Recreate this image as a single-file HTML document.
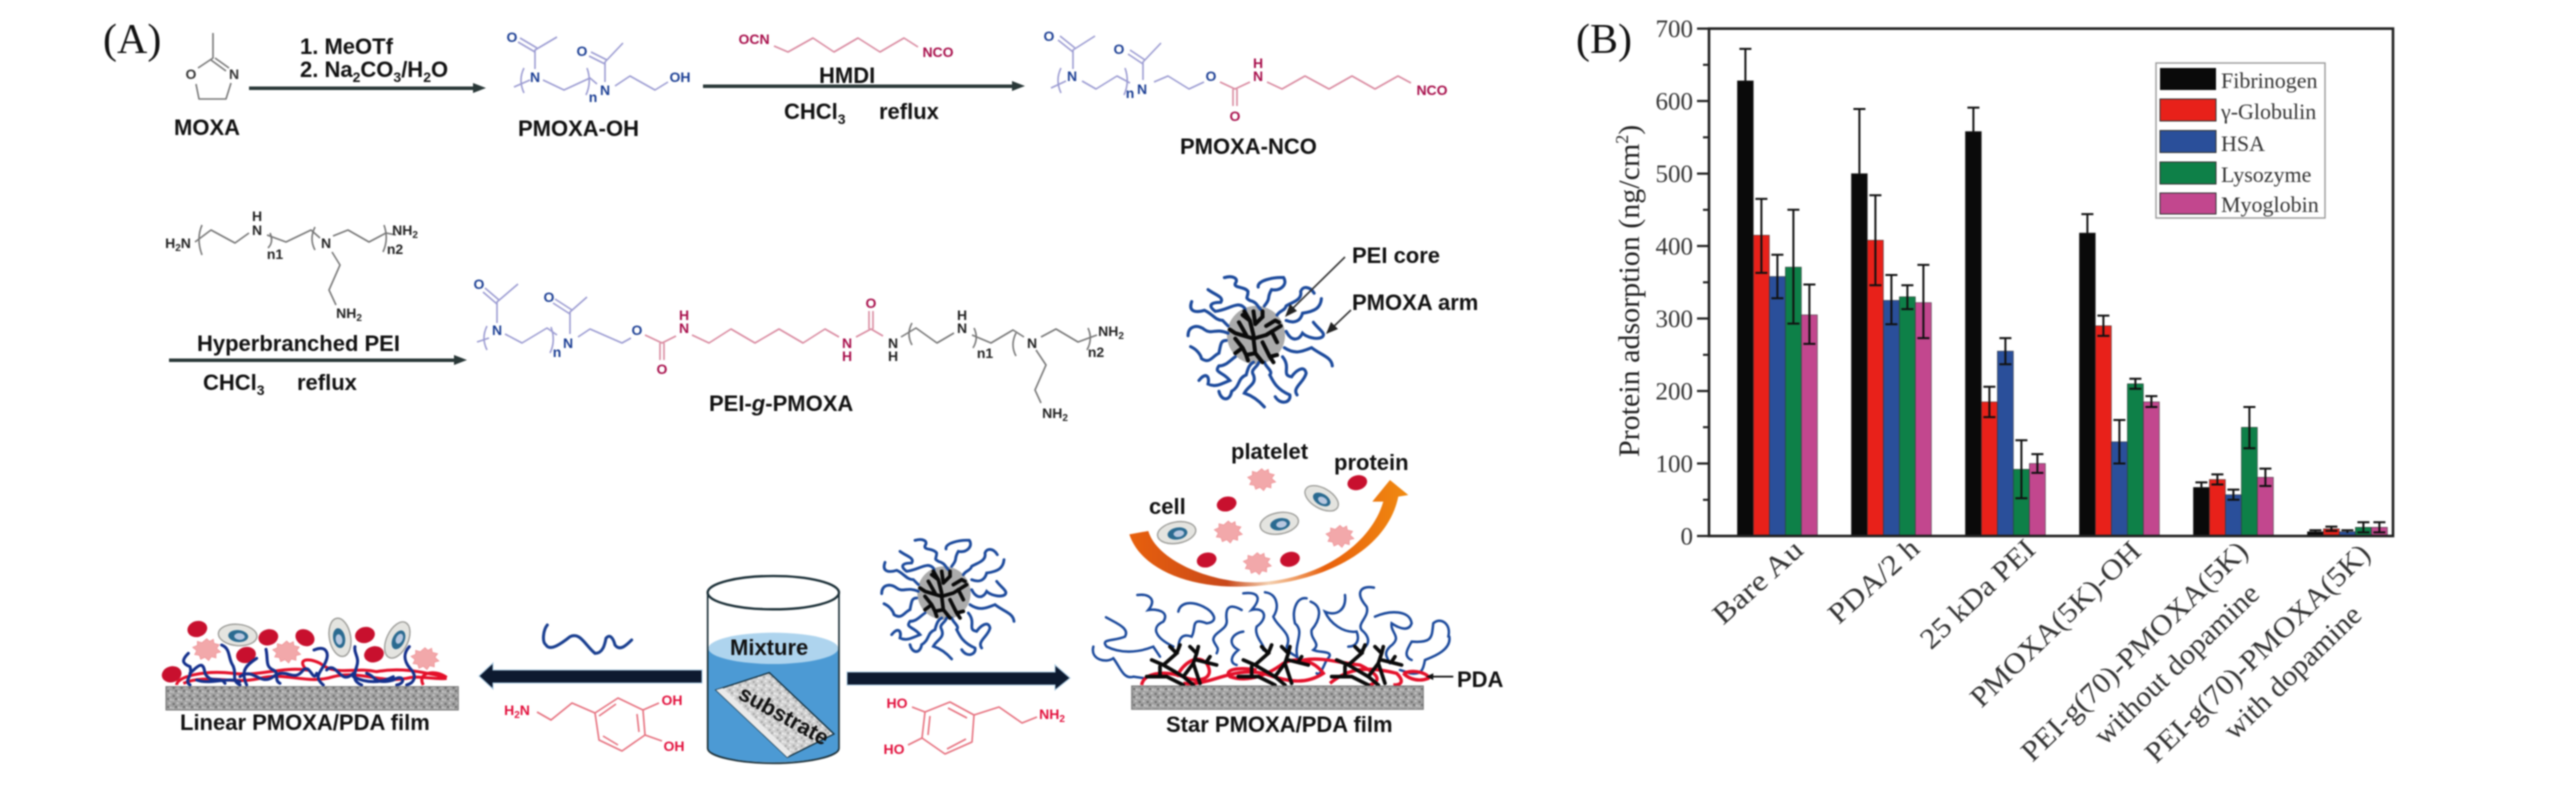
<!DOCTYPE html>
<html><head><meta charset="utf-8"><style>
html,body{margin:0;padding:0;background:#fff}
svg{display:block;filter:blur(.7px)}
text{font-family:"Liberation Sans",sans-serif}
.l{font-weight:700;font-size:22px;fill:#111}
.a{font-weight:700;font-size:14px;text-anchor:middle}
.bl{fill:#1c3f94}.cr{fill:#a8104c}.dk{fill:#222}.rd{fill:#e2103c}
.b,.p,.g,.r{fill:none;stroke-width:1.6;stroke-linejoin:round}
.b{stroke:#9c9cd2}.p{stroke:#d98aa0}.g{stroke:#777}.r{stroke:#e6707e}
.t{font-family:"Liberation Serif",serif;fill:#222}
.tick{font-family:"Liberation Serif",serif;font-size:25px;fill:#333;text-anchor:end}
.lg{font-family:"Liberation Serif",serif;font-size:22px;fill:#333}
.xl{font-family:"Liberation Serif",serif;font-size:29px;fill:#333;text-anchor:middle}
.h{font-family:"Liberation Serif",serif;font-size:42px;fill:#111}
</style></head><body>
<svg width="2567" height="787" viewBox="0 0 2567 787" xmlns="http://www.w3.org/2000/svg">
<defs>
<linearGradient id="og" x1="0" x2="1" y1="0" y2="0"><stop offset="0" stop-color="#e8600c"/><stop offset=".35" stop-color="#c8481a"/><stop offset=".5" stop-color="#f4d0b0"/><stop offset=".7" stop-color="#e8600c"/><stop offset="1" stop-color="#f08a10"/></linearGradient>
<pattern id="sp" width="24" height="24" patternUnits="userSpaceOnUse"><rect width="24" height="24" fill="#a0a0a0"/><rect x="2" y="3" width="6" height="6" fill="#6e6e6e"/><rect x="14" y="1" width="6" height="5" fill="#c8c8c8"/><rect x="9" y="12" width="6" height="6" fill="#707070"/><rect x="18" y="14" width="5" height="6" fill="#cccccc"/><rect x="1" y="16" width="5" height="5" fill="#c4c4c4"/></pattern>
<pattern id="sl" width="24" height="24" patternUnits="userSpaceOnUse"><rect width="24" height="24" fill="#cfcfcf"/><rect x="2" y="3" width="6" height="6" fill="#a8a8a8"/><rect x="14" y="1" width="6" height="5" fill="#efefef"/><rect x="9" y="12" width="6" height="6" fill="#aaaaaa"/><rect x="18" y="14" width="5" height="6" fill="#f2f2f2"/><rect x="1" y="16" width="5" height="5" fill="#eeeeee"/></pattern>
<g id="star"><g transform="scale(.3333) translate(-222,-190)">
<circle cx="222" cy="190" r="80" fill="#ababab"/>
<g fill="none" stroke="#1c4a9c" stroke-width="8.5" stroke-linecap="round">
<path d="M135,32C160,25 175,35 165,48C160,62 190,55 200,70C200,90 190,85 205,95C225,100 225,110 235,120"/>
<path d="M228,58C225,40 270,30 298,32C310,50 290,70 265,65C250,90 265,85 245,110"/>
<path d="M90,65C110,80 135,85 125,100C95,100 90,110 110,125C150,120 170,95 190,115C195,125 190,125 195,130"/>
<path d="M45,98C35,125 55,130 80,122C100,130 110,150 130,150L145,165"/>
<path d="M35,192C35,165 60,160 80,175C100,190 110,170 145,185"/>
<path d="M42,222C60,230 70,245 72,255C95,270 100,250 120,240C125,215 125,205 140,205"/>
<path d="M65,315C85,290 95,305 90,325C110,335 125,325 150,315C130,290 105,295 120,275C140,275 150,260 165,250"/>
<path d="M120,345C125,370 150,375 155,345C180,330 170,310 195,300C200,280 205,270 215,265"/>
<path d="M245,388C225,365 205,355 190,350C200,330 225,325 215,300C205,285 225,280 230,265"/>
<path d="M275,360C290,385 320,375 315,355C280,340 270,320 260,300C270,290 250,280 245,265"/>
<path d="M335,355C320,335 355,320 360,295C355,270 330,290 320,305C290,300 320,280 295,250"/>
<path d="M432,275C430,250 400,245 375,225C350,235 330,245 300,225"/>
<path d="M380,155C395,175 415,185 405,195C390,205 360,195 350,185C340,205 320,210 305,180"/>
<path d="M402,90C400,115 385,125 350,130C345,150 330,160 305,150"/>
<path d="M382,75C370,55 350,55 345,70C350,95 320,100 305,110C300,125 290,120 280,135"/>
</g>
<path fill="none" stroke="#0a0a0a" stroke-width="11" stroke-linecap="round" stroke-linejoin="round" d="M190,125L205,150L215,190M205,150L185,135M215,125L220,160L240,140M240,125L240,140M250,165L275,150L285,155M290,165L250,190L215,200L165,185L150,175M175,155L195,190M265,180L280,210M215,200L220,240L240,265M220,240L195,245L185,225M240,210L260,250L280,245M260,250L270,265M165,200L185,225L165,240M200,260L195,245"/>
</g></g>
<polygon id="pl" points="0,-32 9,-24 20,-30 22,-18 38,-14 30,-3 42,8 28,12 28,26 14,22 6,34 -5,24 -18,30 -22,18 -36,16 -30,4 -42,-6 -28,-12 -28,-24 -14,-20" fill="#f2a8aa" stroke="#ee9094" stroke-width="2"/>
<g id="cell"><ellipse rx="58" ry="32" fill="#e4e4e0" stroke="#9a9a96" stroke-width="4"/><ellipse rx="30" ry="18" cx="2" cy="3" fill="#2a6a90"/><ellipse rx="16" ry="10" cx="6" cy="4" fill="#b8c8e0"/></g>
<g id="tree" fill="none" stroke="#0a0a0a" stroke-width="11" stroke-linecap="round"><path d="M290,770H350L400,795M330,770V740M305,720L340,735L380,700L360,680M380,700L390,675M340,735L400,770L430,795M420,680L440,700L430,730L450,790M440,720L500,735M470,725L480,710M440,700L445,680M430,730L400,770"/></g>
</defs>

<!-- Panel labels -->
<text class="h" x="103" y="53">(A)</text>
<text class="h" x="1576" y="53">(B)</text>

<!-- MOXA -->
<polyline class="g" stroke-width="2" points="213,33 213,58 198,68"/><polyline class="g" points="196,84 199,99 226,99 231,83"/><path class="g" d="M215,58L229,68M211,60L226,71"/>
<text class="a bl" x="191" y="79" style="fill:#333">O</text><text class="a" x="234" y="79" style="fill:#333">N</text>
<text class="l" x="174" y="135">MOXA</text>
<text class="l" x="300" y="54">1. MeOTf</text>
<text class="l" x="300" y="77">2. Na<tspan font-size="14" dy="5">2</tspan><tspan dy="-5">CO</tspan><tspan font-size="14" dy="5">3</tspan><tspan dy="-5">/H</tspan><tspan font-size="14" dy="5">2</tspan><tspan dy="-5">O</tspan></text>
<path d="M249,86.5H473V83L486,88 473,93V90H249Z" fill="#2a3838"/>

<!-- PMOXA-OH -->
<g>
<polyline class="b" points="557,37 535,50 535,69"/><path class="b" d="M518,42L535,52M520,38L537,48"/>
<polyline class="b" points="514,87 530,80"/><path class="b" d="M524,68q-6,12 0,25"/>
<polyline class="b" points="543,80 564,90 590,78 597,84"/><path class="b" d="M587,68q5,14 -1,27"/>
<polyline class="b" points="623,43 605,62 605,82"/><path class="b" d="M589,56L605,64M591,52L607,60"/>
<polyline class="b" points="615,86 630,76 655,90 668,82"/>
<text class="a bl" x="512" y="42">O</text><text class="a bl" x="535" y="82">N</text><text class="a bl" x="582" y="56">O</text><text class="a bl" x="605" y="95">N</text><text class="a bl" x="593" y="102" font-size="12">n</text><text class="a bl" x="680" y="82">OH</text>
<text class="l" x="518" y="136">PMOXA-OH</text>
</g>

<!-- HMDI -->
<text class="a cr" x="754" y="44">OCN</text>
<polyline class="p" points="774,46 788,52 813,38 834,52 858,38 880,52 904,38 918,47"/>
<text class="a cr" x="938" y="57">NCO</text>
<text class="l" x="819" y="83">HMDI</text>
<path d="M703,84.5H1012V81L1025,86 1012,91V88H703Z" fill="#2a3838"/>
<text class="l" x="784" y="119">CHCl<tspan font-size="14" dy="5">3</tspan></text><text class="l" x="879" y="119">reflux</text>

<!-- PMOXA-NCO -->
<g>
<polyline class="b" points="1095,36 1073,50 1073,69"/><path class="b" d="M1058,40L1073,52M1060,36L1075,48"/>
<polyline class="b" points="1051,88 1066,81"/><path class="b" d="M1061,68q-6,12 0,25"/>
<polyline class="b" points="1082,81 1096,89 1117,76 1130,83"/><path class="b" d="M1125,68q5,14 -1,27"/>
<polyline class="b" points="1161,43 1143,62 1143,80"/><path class="b" d="M1128,54L1143,64M1130,50L1145,60"/>
<polyline class="b" points="1154,82 1168,76 1189,89 1204,82"/>
<polyline class="p" points="1220,82 1235,89 1250,82"/><path class="p" d="M1233,89V106M1237,89V106"/>
<polyline class="p" points="1267,82 1282,89 1305,76 1329,89 1352,76 1375,89 1398,76 1411,83"/>
<text class="a bl" x="1049" y="41">O</text><text class="a bl" x="1072" y="81">N</text><text class="a bl" x="1119" y="54">O</text><text class="a bl" x="1142" y="94">N</text><text class="a bl" x="1130" y="98" font-size="12">n</text><text class="a bl" x="1211" y="81">O</text>
<text class="a cr" x="1258" y="81">N</text><text class="a cr" x="1258" y="68">H</text><text class="a cr" x="1235" y="121">O</text><text class="a cr" x="1432" y="95">NCO</text>
<text class="l" x="1180" y="154">PMOXA-NCO</text>
</g>

<!-- PEI top -->
<g>
<polyline class="g" points="195,242 211,230 235,243 249,233"/><path class="g" d="M202,225q-6,14 0,30M270,233q4,9 -2,15M315,227q-6,12 0,23M384,225q5,14 -1,27"/>
<polyline class="g" points="267,235 286,242 311,230 320,238"/>
<polyline class="g" points="333,236 348,230 369,242 386,233 396,235"/>
<polyline class="g" points="332,252 340,265 329,290 336,305"/>
<text class="a dk" x="178" y="248" font-size="13">H<tspan font-size="10" dy="3">2</tspan><tspan dy="-3">N</tspan></text>
<text class="a dk" x="257" y="235">N</text><text class="a dk" x="257" y="221">H</text><text class="a dk" x="326" y="248">N</text>
<text class="a dk" x="275" y="259" font-size="12">n1</text><text class="a dk" x="395" y="254" font-size="12">n2</text>
<text class="a dk" x="405" y="235" font-size="13">NH<tspan font-size="10" dy="3">2</tspan></text>
<text class="a dk" x="349" y="318" font-size="13">NH<tspan font-size="10" dy="3">2</tspan></text>
<text class="l" x="197" y="351">Hyperbranched PEI</text>
<path d="M169,358.5H454V355L467,360 454,365V362H169Z" fill="#2a3838"/>
<text class="l" x="203" y="390">CHCl<tspan font-size="14" dy="5">3</tspan></text><text class="l" x="297" y="390">reflux</text>
</g>

<!-- PEI-g-PMOXA -->
<g>
<polyline class="b" points="518,284 497,302 497,323"/><path class="b" d="M483,292L497,304M485,288L499,300"/>
<polyline class="b" points="477,342 489,338"/><path class="b" d="M487,326q-6,12 0,24"/>
<polyline class="b" points="505,334 522,343 547,328 557,335"/><path class="b" d="M551,327q5,14 -1,26"/>
<polyline class="b" points="587,297 570,312 570,334"/><path class="b" d="M553,303L570,314M555,299L572,310"/>
<polyline class="b" points="578,337 590,329 622,343 631,338"/>
<polyline class="p" points="645,335 662,343 676,336"/><path class="p" d="M660,343V360M664,343V360"/>
<polyline class="p" points="692,335 709,343 731,329 755,343 779,329 803,343 825,329 839,337"/>
<polyline class="p" points="856,337 871,329 883,336"/><path class="p" d="M869,329V311M873,329V311"/>
<polyline class="g" points="901,337 916,328 937,343 954,333"/>
<polyline class="g" points="972,335 991,343 1013,330 1024,337"/>
<polyline class="g" points="1041,337 1056,329 1078,342 1097,335"/>
<path class="g" d="M912,323q-6,11 0,22M974,328q5,10 -1,20M1016,333q-6,12 0,23M1088,328q5,11 -1,22"/>
<polyline class="g" points="1036,350 1046,365 1035,390 1041,403"/>
<text class="a bl" x="479" y="289">O</text><text class="a bl" x="497" y="335">N</text><text class="a bl" x="549" y="302">O</text><text class="a bl" x="568" y="348">N</text><text class="a bl" x="557" y="357" font-size="12">n</text><text class="a bl" x="637" y="335">O</text>
<text class="a cr" x="684" y="333">N</text><text class="a cr" x="684" y="320">H</text><text class="a cr" x="662" y="374">O</text><text class="a cr" x="847" y="348">N</text><text class="a cr" x="847" y="361">H</text><text class="a cr" x="871" y="308">O</text>
<text class="a dk" x="893" y="348">N</text><text class="a dk" x="893" y="361">H</text><text class="a dk" x="962" y="333">N</text><text class="a dk" x="962" y="320">H</text><text class="a dk" x="1032" y="348">N</text>
<text class="a dk" x="985" y="358" font-size="12">n1</text><text class="a dk" x="1096" y="357" font-size="12">n2</text>
<text class="a dk" x="1111" y="336" font-size="13">NH<tspan font-size="10" dy="3">2</tspan></text>
<text class="a dk" x="1055" y="418" font-size="13">NH<tspan font-size="10" dy="3">2</tspan></text>
<text class="l" x="709" y="411">PEI-<tspan font-style="italic">g</tspan>-PMOXA</text>
</g>

<!-- Star 1 -->
<use href="#star" transform="translate(1256,335) scale(1.09)"/>
<text class="l" x="1352" y="263">PEI core</text><text class="l" x="1352" y="310">PMOXA arm</text>
<path d="M1345,257L1289,312" stroke="#333" stroke-width="1.6" fill="none"/><path d="M1285,317L1290,304 1297,311Z" fill="#222"/>
<path d="M1351,310L1330,330" stroke="#333" stroke-width="1.6" fill="none"/><path d="M1326,334L1331,322 1338,329Z" fill="#222"/>

<!-- Linear film -->
<g transform="translate(140,590) scale(.3333)">
<g fill="none" stroke="#e4102a" stroke-width="9"><path d="M110,285C110,260 190,240 280,250C360,260 420,230 500,240C470,210 500,200 540,220C590,260 640,230 710,245C790,230 860,250 920,262C880,235 830,250 850,285"/><path d="M130,280C200,250 280,285 360,265C440,245 500,285 580,260C660,240 720,280 800,265C840,255 880,270 920,265"/></g>
<g fill="#c8102e"><ellipse cx="172" cy="117" rx="30" ry="24" transform="rotate(-15 172 117)"/><ellipse cx="385" cy="142" rx="30" ry="24" transform="rotate(-15 385 142)"/><ellipse cx="495" cy="143" rx="30" ry="24" transform="rotate(30 495 143)"/><ellipse cx="675" cy="135" rx="30" ry="24" transform="rotate(-15 675 135)"/><ellipse cx="318" cy="195" rx="30" ry="24" transform="rotate(-15 318 195)"/><ellipse cx="702" cy="193" rx="30" ry="24" transform="rotate(-15 702 193)"/><ellipse cx="95" cy="253" rx="30" ry="24" transform="rotate(-15 95 253)"/></g>
<use href="#pl" transform="translate(200,178)"/><use href="#pl" transform="translate(440,185)"/><use href="#pl" transform="translate(855,205)"/>
<use href="#cell" transform="translate(293,135) rotate(5)"/><use href="#cell" transform="translate(600,142) rotate(80)"/><use href="#cell" transform="translate(772,150) rotate(-65)"/>
<g fill="none" stroke="#14308c" stroke-width="9" stroke-linecap="round"><path d="M145,190C125,210 125,220 150,230C160,260 130,270 150,285M150,250C180,220 190,215 195,250C215,285 240,255 255,280M245,165C270,175 265,200 275,220C295,250 270,270 300,285M350,205C320,225 300,240 320,285M378,178C385,210 375,230 400,240C420,250 400,270 420,280M300,260C340,230 360,290 400,260C440,230 460,280 490,240C510,220 520,280 530,250M522,180C560,165 570,190 555,220C540,250 520,260 550,285M560,240C590,210 600,290 640,250M645,170C640,190 660,200 650,230C640,260 640,275 665,285M680,250C710,260 700,285 760,270C790,250 800,280 770,285M808,170C790,190 790,210 810,235C835,260 820,280 800,285M640,260C680,280 720,280 760,260M170,270C210,285 260,260 300,275"/></g>
<rect x="78" y="290" width="877" height="70" fill="url(#sp)" stroke="#777" stroke-width="3"/>
</g>
<text class="l" x="180" y="730">Linear PMOXA/PDA film</text>

<!-- Linear chain and arrows -->
<g transform="translate(530,610) scale(.3333)"><path d="M52,45C40,60 35,95 48,105C60,125 95,100 120,80C150,65 165,105 195,130C220,130 225,100 228,85C240,70 250,85 255,105C270,125 290,105 305,90" fill="none" stroke="#1a3f90" stroke-width="9" stroke-linecap="round"/></g>
<path d="M702,670H493V663L479,676 493,689V683H702Z" fill="#0d1a30" stroke="#a8c8e0" stroke-width="1"/>
<path d="M847,672H1055V665L1070,678 1055,690V685H847Z" fill="#0d1a30" stroke="#a8c8e0" stroke-width="1"/>

<!-- Dopamine left -->
<polyline class="r" points="537,712 551,720 572,703 595,713 618,698 643,710 645,735 622,751 599,740 595,713"/>
<path class="r" d="M643,710L659,703M645,735L662,741M637,714L639,732M618,745L603,736M599,716L616,704"/>
<text class="a rd" x="517" y="715">H<tspan font-size="10" dy="3">2</tspan><tspan dy="-3">N</tspan></text><text class="a rd" x="672" y="705">OH</text><text class="a rd" x="674" y="751">OH</text>
<!-- Dopamine right -->
<polyline class="r" points="925,712 950,702 974,715 972,742 945,754 922,738 925,712"/>
<path class="r" d="M912,707L925,712M908,745L922,738M974,715L999,707 1022,723 1037,717M930,716L928,735M948,708L967,718M966,739L947,749"/>
<text class="a rd" x="897" y="708">HO</text><text class="a rd" x="894" y="754">HO</text><text class="a rd" x="1052" y="719">NH<tspan font-size="10" dy="3">2</tspan></text>

<!-- Beaker -->
<g transform="translate(680,560) scale(.3333)">
<path d="M85,265V565C85,590 180,607 280,607S475,590 475,565V265Z" fill="#4c9ad4"/>
<ellipse cx="280" cy="265" rx="195" ry="47" fill="#aed4ee"/>
<path d="M83,98V565C83,590 180,610 280,610S477,590 477,565V98" fill="none" stroke="#1c3038" stroke-width="5"/>
<ellipse cx="280" cy="98" rx="197" ry="50" fill="#fff" stroke="#1c3038" stroke-width="7"/>
<path d="M108,390L268,338 462,522 322,592Z" fill="url(#sl)" stroke="#123040" stroke-width="4"/>
<path d="M108,390L128,384 335,580 322,592Z" fill="#eaeaea"/>
</g>
<text class="l" x="730" y="655">Mixture</text>
<text class="l" transform="translate(737,698) rotate(29)" x="0" y="0">substrate</text>

<!-- Star 2 -->
<use href="#star" transform="translate(944,593)"/>

<!-- Star film -->
<g transform="translate(1050,420) scale(.3333)">
<path d="M238,343L295,333C320,420 480,490 620,487C800,480 960,380 1000,245L967,245L1020,180L1075,225L1045,230C1010,400 800,500 560,500C400,500 270,440 238,343Z" fill="url(#og)"/>
<g fill="#c8102e"><ellipse cx="530" cy="252" rx="30" ry="22" transform="rotate(-15 530 252)"/><ellipse cx="922" cy="188" rx="30" ry="22" transform="rotate(-15 922 188)"/><ellipse cx="470" cy="420" rx="30" ry="22" transform="rotate(-15 470 420)"/><ellipse cx="720" cy="418" rx="30" ry="22" transform="rotate(-15 720 418)"/></g>
<use href="#pl" transform="translate(635,178)"/><use href="#pl" transform="translate(535,335)"/><use href="#pl" transform="translate(870,348)"/><use href="#pl" transform="translate(622,430)"/>
<use href="#cell" transform="translate(380,338) rotate(-10)"/><use href="#cell" transform="translate(688,310) rotate(-10)"/><use href="#cell" transform="translate(815,235) rotate(30) scale(.95)"/>
<g fill="none" stroke="#1c4a9c" stroke-width="7.5" stroke-linecap="round"><path d="M130,680C120,720 170,730 190,715C210,740 220,780 250,770L285,775M168,592C200,610 240,625 225,650C190,665 150,655 170,680C210,700 260,700 310,680L330,710M262,525C300,520 320,540 295,570C320,565 360,575 340,605C305,620 310,650 370,680M385,575C390,550 420,540 460,560C490,575 510,605 470,610C420,590 440,625 425,650C400,640 385,650 385,690M575,570C540,550 525,560 530,600C535,630 490,635 490,660C495,680 510,680 500,700M580,635C545,640 530,670 565,690C540,710 540,730 560,735M580,520C620,515 640,530 605,570C640,560 660,590 620,620C610,650 650,680 640,690M645,517C680,520 690,560 670,590C680,620 730,640 710,680C720,710 740,700 745,720M770,535C740,530 725,570 735,610C770,640 720,680 750,730M782,545C820,560 810,600 785,630C780,660 815,670 790,690C810,700 860,690 830,720C820,740 810,770 800,760M885,525C890,570 860,590 825,575C840,610 880,640 920,635C930,660 920,680 895,680M972,503C930,495 915,520 950,560C960,590 920,610 935,630C970,660 950,680 935,690M975,590C1020,570 1080,570 1085,610C1075,640 1040,620 1025,610C1020,640 1060,650 1020,680C1000,700 1010,710 1020,730M1195,650C1205,610 1170,590 1150,610C1145,650 1150,670 1085,665C1070,690 1060,710 1085,720M1198,650C1205,690 1150,710 1125,720C1120,750 1115,765 1080,760L1050,750"/></g>
<g fill="none" stroke="#e4102a" stroke-width="10"><path d="M275,795C280,760 340,750 400,770C440,790 500,780 470,730C440,700 400,730 380,770M400,790C480,800 540,740 640,760C700,780 760,800 820,760C790,720 740,710 700,730C660,760 600,790 540,770C520,750 560,740 620,750"/><path d="M760,720C820,710 870,730 930,735C980,760 1000,780 960,795M840,790C900,740 960,740 1040,760C1060,780 1060,795 1030,795M1060,760C1100,745 1140,765 1135,775C1110,785 1080,780 1060,760"/></g>
<use href="#tree" transform="translate(0,0)"/><use href="#tree" transform="translate(275,0)"/><use href="#tree" transform="translate(555,0)"/>
<rect x="245" y="798" width="875" height="70" fill="url(#sp)" stroke="#777" stroke-width="3"/>
<path d="M1210,770H1145" stroke="#111" stroke-width="5"/><path d="M1128,770L1150,760V780Z" fill="#111"/>
</g>
<text class="l" x="1231" y="459">platelet</text><text class="l" x="1149" y="514">cell</text><text class="l" x="1334" y="470">protein</text>
<text class="l" x="1457" y="687">PDA</text><text class="l" x="1166" y="732">Star PMOXA/PDA film</text>

<!-- Chart B -->
<g stroke="#333" stroke-width=".5">
<g fill="#0a0a0a"><rect x="1737.4" y="80.8" width="16" height="455.2"/><rect x="1851.4" y="173.6" width="16" height="362.4"/><rect x="1965.4" y="131.5" width="16" height="404.5"/><rect x="2079.4" y="233" width="16" height="303"/><rect x="2193.4" y="487.4" width="16" height="48.6"/><rect x="2307.4" y="531.7" width="16" height="4.3"/></g>
<g fill="#e8211a"><rect x="1753.4" y="235.2" width="16" height="300.8"/><rect x="1867.4" y="240.2" width="16" height="295.8"/><rect x="1981.4" y="401.9" width="16" height="134.1"/><rect x="2095.4" y="325.8" width="16" height="210.2"/><rect x="2209.4" y="479.5" width="16" height="56.5"/><rect x="2323.4" y="528.8" width="16" height="7.2"/></g>
<g fill="#2a4f9a"><rect x="1769.4" y="276.5" width="16" height="259.5"/><rect x="1883.4" y="300.4" width="16" height="235.6"/><rect x="1997.4" y="351.1" width="16" height="184.9"/><rect x="2111.4" y="441.8" width="16" height="94.2"/><rect x="2225.4" y="494.7" width="16" height="41.3"/><rect x="2339.4" y="531.7" width="16" height="4.3"/></g>
<g fill="#0e8048"><rect x="1785.4" y="267.1" width="16" height="268.9"/><rect x="1899.4" y="296.8" width="16" height="239.2"/><rect x="2013.4" y="469.3" width="16" height="66.7"/><rect x="2127.4" y="383.8" width="16" height="152.2"/><rect x="2241.4" y="427.3" width="16" height="108.7"/><rect x="2355.4" y="527.3" width="16" height="8.7"/></g>
<g fill="#c2478e"><rect x="1801.4" y="314.9" width="16" height="221.1"/><rect x="1915.4" y="302.6" width="16" height="233.4"/><rect x="2029.4" y="463.5" width="16" height="72.5"/><rect x="2143.4" y="401.9" width="16" height="134.1"/><rect x="2257.4" y="477.3" width="16" height="58.7"/><rect x="2371.4" y="527.3" width="16" height="8.7"/></g>
</g>
<path fill="none" stroke="#111" stroke-width="2" d="
M1745.4,80.8V48.9M1739.4,48.9h12
M1761.4,198.9V272.9M1755.4,198.9h12M1755.4,272.9h12
M1777.4,254.7V298.2M1771.4,254.7h12M1771.4,298.2h12
M1793.4,209.8V323.6M1787.4,209.8h12M1787.4,323.6h12
M1809.4,284.5V343.9M1803.4,284.5h12M1803.4,343.9h12
M1859.4,173.6V109M1853.4,109h12
M1875.4,195.3V285.2M1869.4,195.3h12M1869.4,285.2h12
M1891.4,275V324.3M1885.4,275h12M1885.4,324.3h12
M1907.4,285.2V309.1M1901.4,285.2h12M1901.4,309.1h12
M1923.4,264.9V338.1M1917.4,264.9h12M1917.4,338.1h12
M1973.4,131.5V107.6M1967.4,107.6h12
M1989.4,386.7V417.1M1983.4,386.7h12M1983.4,417.1h12
M2005.4,338.1V364.2M1999.4,338.1h12M1999.4,364.2h12
M2021.4,440.3V498.3M2015.4,440.3h12M2015.4,498.3h12
M2037.4,454.1V472.9M2031.4,454.1h12M2031.4,472.9h12
M2087.4,233V214.1M2081.4,214.1h12
M2103.4,315.6V335.9M2097.4,315.6h12M2097.4,335.9h12
M2119.4,420V463.5M2113.4,420h12M2113.4,463.5h12
M2135.4,378.7V388.8M2129.4,378.7h12M2129.4,388.8h12
M2151.4,396.1V407M2145.4,396.1h12M2145.4,407h12
M2201.4,487.4V482.4M2195.4,482.4h12
M2217.4,474.4V484.5M2211.4,474.4h12M2211.4,484.5h12
M2233.4,489.6V499.8M2227.4,489.6h12M2227.4,499.8h12
M2249.4,407V448.3M2243.4,407h12M2243.4,448.3h12
M2265.4,468.6V486M2259.4,468.6h12M2259.4,486h12
M2315.4,531.7V530.2M2309.4,530.2h12
M2331.4,526.6V530.9M2325.4,526.6h12M2325.4,530.9h12
M2347.4,530.2V533M2341.4,530.2h12
M2363.4,522.2V532.4M2357.4,522.2h12M2357.4,532.4h12
M2379.4,522.2V532.4M2373.4,522.2h12M2373.4,532.4h12"/>
<rect x="1709" y="28.6" width="684" height="507.4" fill="none" stroke="#222" stroke-width="2.6"/>
<path stroke="#222" stroke-width="2.2" fill="none" d="M1697,28.6h12M1697,101h12M1697,173.6h12M1697,246h12M1697,318.5h12M1697,391h12M1697,463.5h12M1697,536h12M1703,64.8h6M1703,137.3h6M1703,209.8h6M1703,282.3h6M1703,354.8h6M1703,427.2h6M1703,499.8h6"/>
<text class="tick" x="1693" y="37">700</text><text class="tick" x="1693" y="109.5">600</text><text class="tick" x="1693" y="182">500</text><text class="tick" x="1693" y="254.5">400</text><text class="tick" x="1693" y="327">300</text><text class="tick" x="1693" y="399.5">200</text><text class="tick" x="1693" y="472">100</text><text class="tick" x="1693" y="544.5">0</text>
<text class="t" transform="translate(1639,457) rotate(-90)" font-size="30">Protein adsorption (ng/cm<tspan font-size="18" dy="-11">2</tspan><tspan dy="11">)</tspan></text>

<!-- Legend -->
<rect x="2156" y="63" width="169" height="155" fill="#fff" stroke="#999" stroke-width="1.4"/>
<rect x="2160" y="68" width="56" height="22" fill="#0a0a0a"/><rect x="2160" y="99" width="56" height="22" fill="#e8211a" stroke="#333"/><rect x="2160" y="130.5" width="56" height="22" fill="#2a4f9a" stroke="#333"/><rect x="2160" y="162" width="56" height="22" fill="#0e8048" stroke="#333"/><rect x="2160" y="193" width="56" height="21" fill="#c2478e" stroke="#333"/>
<text class="lg" x="2221" y="88">Fibrinogen</text><text class="lg" x="2221" y="119">γ-Globulin</text><text class="lg" x="2221" y="151">HSA</text><text class="lg" x="2221" y="182">Lysozyme</text><text class="lg" x="2221" y="212">Myoglobin</text>

<!-- X labels -->
<g>
<text class="xl" transform="translate(1764,589) rotate(-42)" textLength="110" lengthAdjust="spacingAndGlyphs">Bare Au</text>
<text class="xl" transform="translate(1880,588) rotate(-42)" textLength="111" lengthAdjust="spacingAndGlyphs">PDA/2 h</text>
<text class="xl" transform="translate(1984,601) rotate(-43)" textLength="145" lengthAdjust="spacingAndGlyphs">25 kDa PEI</text>
<text class="xl" transform="translate(2062,631) rotate(-44)" textLength="224" lengthAdjust="spacingAndGlyphs">PMOXA(5K)-OH</text>
<text class="xl" transform="translate(2141,658) rotate(-44)" textLength="302" lengthAdjust="spacingAndGlyphs">PEI-g(70)-PMOXA(5K)</text>
<text class="xl" transform="translate(2183,671) rotate(-44)" textLength="217" lengthAdjust="spacingAndGlyphs">without dopamine</text>
<text class="xl" transform="translate(2264,660) rotate(-44)" textLength="300" lengthAdjust="spacingAndGlyphs">PEI-g(70)-PMOXA(5K)</text>
<text class="xl" transform="translate(2299,679) rotate(-44)" textLength="179" lengthAdjust="spacingAndGlyphs">with dopamine</text>
</g>
</svg>
</body></html>
